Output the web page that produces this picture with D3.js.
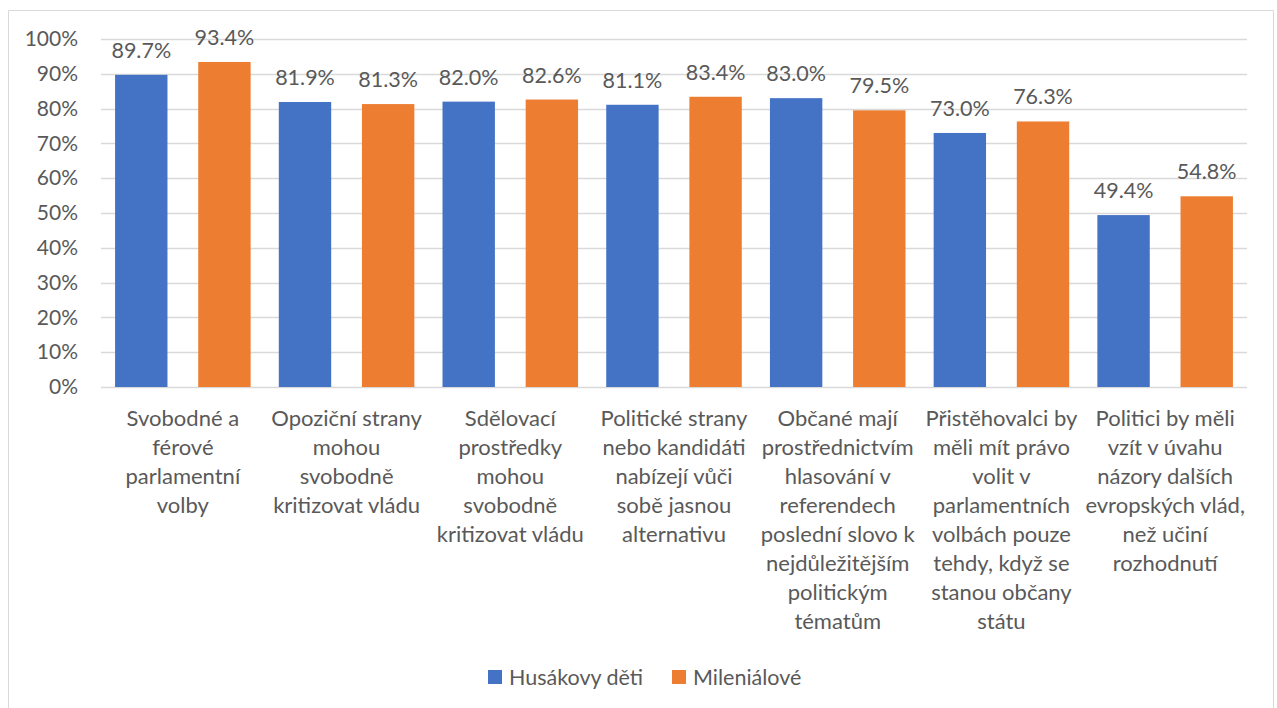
<!DOCTYPE html>
<html>
<head>
<meta charset="utf-8">
<script src="https://cdn.jsdelivr.net/npm/d3@7"></script>
<style>
  html, body { margin: 0; padding: 0; background: #fff; overflow: hidden; }
  svg { display: block; }
  text { font-family: Lato, "Open Sans", sans-serif; fill: #595959; }
</style>
</head>
<body>
<svg id="chart"></svg>
<script>
// categories (already wrapped the way the original shows them)
const categories = [
  ["Svobodné a", "férové", "parlamentní", "volby"],
  ["Opoziční strany", "mohou", "svobodně", "kritizovat vládu"],
  ["Sdělovací", "prostředky", "mohou", "svobodně", "kritizovat vládu"],
  ["Politické strany", "nebo kandidáti", "nabízejí vůči", "sobě jasnou", "alternativu"],
  ["Občané mají", "prostřednictvím", "hlasování v", "referendech", "poslední slovo k", "nejdůležitějším", "politickým", "tématům"],
  ["Přistěhovalci by", "měli mít právo", "volit v", "parlamentních", "volbách pouze", "tehdy, když se", "stanou občany", "státu"],
  ["Politici by měli", "vzít v úvahu", "názory dalších", "evropských vlád,", "než učiní", "rozhodnutí"]
];
const seriesNames = ["Husákovy děti", "Mileniálové"];
const husakovy = [89.7, 81.9, 82.0, 81.1, 83.0, 73.0, 49.4];
const milenialove = [93.4, 81.3, 82.6, 83.4, 79.5, 76.3, 54.8];
const yTicks = [0, 10, 20, 30, 40, 50, 60, 70, 80, 90, 100];
const colors = ["#4472c4", "#ed7d31"];

const width = 1277, height = 708;
const plot = { left: 101, right: 1247, top: 39, bottom: 387 };

const svg = d3.select("#chart").attr("width", width).attr("height", height);

// chart frame (bottom edge sits below the visible area)
svg.append("path")
  .attr("d", "M8.5,708 V10.5 H1273.5 V708")
  .attr("fill", "none").attr("stroke", "#d9d9d9");

const x0 = d3.scaleBand().domain(d3.range(categories.length)).range([plot.left, plot.right]).paddingInner(0.172).paddingOuter(0.086);
const x1 = d3.scaleBand().domain([0, 1]).range([0, x0.bandwidth()]).paddingInner(0.37);
const y = d3.scaleLinear().domain([0, 100]).range([plot.bottom, plot.top]);
const step = x0.step();

// gridlines
svg.selectAll(".grid").data(yTicks).join("line").attr("class", "grid")
  .attr("x1", plot.left).attr("x2", plot.right)
  .attr("y1", d => Math.round(y(d)) + 0.5).attr("y2", d => Math.round(y(d)) + 0.5)
  .attr("stroke", "#d9d9d9").attr("stroke-width", 1.3);

// y tick labels
svg.selectAll(".ytick").data(yTicks).join("text").attr("class", "ytick")
  .attr("x", plot.left - 23).attr("y", d => y(d)).attr("dy", "0.34em")
  .attr("text-anchor", "end").style("font-size", "21px")
  .text(d => d + "%");

// bars
const flat = [];
husakovy.forEach((v, i) => flat.push({ i, k: 0, v }));
milenialove.forEach((v, i) => flat.push({ i, k: 1, v }));

svg.selectAll(".bar").data(flat).join("rect").attr("class", "bar")
  .attr("x", d => x0(d.i) + x1(d.k)).attr("width", x1.bandwidth())
  .attr("y", d => y(d.v)).attr("height", d => y(0) - y(d.v))
  .attr("fill", d => colors[d.k]);

svg.selectAll(".val").data(flat).join("text").attr("class", "val")
  .attr("x", d => x0(d.i) + x1(d.k) + x1.bandwidth() / 2).attr("y", d => y(d.v) - 17)
  .attr("text-anchor", "middle").style("font-size", "21.5px")
  .text(d => d.v.toFixed(1) + "%");

// category labels, one text per line
const lines = [];
categories.forEach((c, i) => c.forEach((t, j) => lines.push({ i, j, t })));
svg.selectAll(".cat").data(lines).join("text").attr("class", "cat")
  .attr("x", d => x0(d.i) + x0.bandwidth() / 2).attr("y", d => plot.bottom + 39 + d.j * 29)
  .attr("text-anchor", "middle").style("font-size", "22px")
  .text(d => d.t);

// legend
const legendX = [488, 672];
svg.selectAll(".lg-box").data(seriesNames).join("rect").attr("class", "lg-box")
  .attr("x", (d, k) => legendX[k]).attr("y", 670).attr("width", 14).attr("height", 14)
  .attr("fill", (d, k) => colors[k]);
svg.selectAll(".lg-text").data(seriesNames).join("text").attr("class", "lg-text")
  .attr("x", (d, k) => legendX[k] + 21).attr("y", 685).style("font-size", "21.5px")
  .text(d => d);
</script>
</body>
</html>
